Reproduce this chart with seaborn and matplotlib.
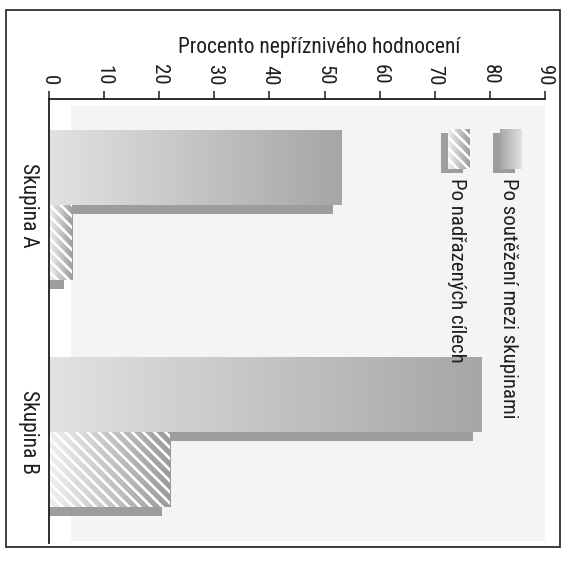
import numpy as np
import pandas as pd
import matplotlib
matplotlib.use("Agg")
import matplotlib.pyplot as plt
from matplotlib import font_manager
from matplotlib.patches import Rectangle
from matplotlib.colors import LinearSegmentedColormap
import seaborn as sns

# ---- data -------------------------------------------------------------
groups = ["Skupina A", "Skupina B"]
series = ["Po soutěžení mezi skupinami", "Po nadřazených cílech"]
competition = [53.0, 78.5]        # after intergroup competition
superordinate = [4.2, 22.0]       # after superordinate goals
ticks = [0, 10, 20, 30, 40, 50, 60, 70, 80, 90]
axis_title = "Procento nepříznivého hodnocení"

# ---- style --------------------------------------------------------------
sns.set_theme(style="white")


def pick_font():
    fonts = font_manager.fontManager.ttflist
    names = {f.name for f in fonts}
    for cand in ["Liberation Sans Narrow", "Roboto Condensed", "Open Sans Condensed"]:
        if cand in names:
            return cand, "normal"
    if any(f.name == "DejaVu Sans" and f.stretch in ("condensed", "semi-condensed", 87.5)
           for f in fonts):
        return "DejaVu Sans", "condensed"
    return "DejaVu Sans", "normal"


FONT, STRETCH = pick_font()
plt.rcParams["font.family"] = [FONT, "DejaVu Sans"]
plt.rcParams["font.stretch"] = STRETCH
HATCH_LW = 1.9
plt.rcParams["hatch.linewidth"] = HATCH_LW
plt.rcParams["hatch.color"] = "white"
HATCH = "\\\\\\"

INK = "#1e1e1e"
SHADOW = "#9d9d9d"
BG = "#f3f4f6"
solid_cmap = LinearSegmentedColormap.from_list("solid", ["#e2e2e2", "#a6a6a6"])
hatch_cmap = LinearSegmentedColormap.from_list("hatch", ["#f0f0f0", "#9a9a9a"])

df = pd.DataFrame({
    "skupina": groups + groups,
    "hodnoceni": [series[0]] * len(groups) + [series[1]] * len(groups),
    "procento": competition + superordinate,
})

fig = plt.figure(figsize=(5.68, 5.68), dpi=100)
ax = fig.add_axes([49 / 568, 1 - 543 / 568, 496 / 568, 444 / 568])

sns.barplot(data=df, x="procento", y="skupina", hue="hodnoceni",
            order=groups, hue_order=series, orient="h", width=0.66,
            dodge=True, errorbar=None, saturation=1, legend=False, ax=ax)

bars = list(ax.patches)
SHIFT_X = 1.5      # depth offset of the bar shadows (value units)
SHIFT_Y = 0.038    # depth offset of the bar shadows (category units)

for p in bars:
    w = p.get_width()
    y0 = p.get_y()
    h = p.get_height()
    yc = y0 + h / 2
    is_first = (yc - round(yc)) < 0
    # shadow behind each bar
    ax.barh(yc + SHIFT_Y, max(w - SHIFT_X, 0), height=h, left=0,
            color=SHADOW, linewidth=0, zorder=1.2)
    # gradient face
    grad = np.linspace(0, 1, 256).reshape(1, -1)
    im = ax.imshow(grad, extent=(0, w, y0 + h, y0), aspect="auto",
                   cmap=solid_cmap if is_first else hatch_cmap,
                   interpolation="bicubic", zorder=1.4)
    im.set_clip_path(p)
    p.set_facecolor("none")
    p.set_linewidth(0)
    p.set_zorder(1.6)
    if not is_first:
        p.set_edgecolor("white")
        p.set_hatch(HATCH)
        if hasattr(p, "set_hatch_linewidth"):
            p.set_hatch_linewidth(HATCH_LW)

# light panel behind the bars
ax.axvspan(4.0, 90, ymin=0.005, ymax=0.985, color=BG, linewidth=0, zorder=0)

# ---- axes ---------------------------------------------------------------
ax.set_xlim(0, 90)
ax.set_ylim(1.489, -0.467)
ax.xaxis.tick_top()
ax.set_xticks(ticks)
ax.set_xticklabels([str(t) for t in ticks], rotation=-90, ha="center", va="bottom")
ax.tick_params(axis="x", top=True, bottom=False, length=6, width=1.1,
               color=INK, pad=4, labelsize=15, labelcolor=INK)
ax.tick_params(axis="y", left=False, length=0, pad=7, labelsize=15.5, labelcolor=INK)
for lbl in ax.get_yticklabels():
    lbl.set_rotation(-90)
    lbl.set_va("center")
    lbl.set_ha("right")

ax.set_ylabel("")
ax.set_xlabel(axis_title, fontsize=15.5, color=INK)
ax.xaxis.set_label_position("top")
ax.xaxis.set_label_coords(0.545, 1.1036)
ax.xaxis.label.set_va("baseline")

for side in ("right", "bottom"):
    ax.spines[side].set_visible(False)
for side in ("top", "left"):
    ax.spines[side].set_visible(True)
    ax.spines[side].set_color(INK)
    ax.spines[side].set_linewidth(1.3)
ax.set_facecolor("white")


# ---- legend (rotated entries) -------------------------------------------
def ax_xy(px, py):
    return (px - 49) / 496, (543 - py) / 444


def legend_entry(x_left, label, cmap, hatched):
    sx0, sy0 = ax_xy(x_left - 7, 173)
    sx1, sy1 = ax_xy(x_left + 15, 133)
    ax.add_patch(Rectangle((sx0, sy0), sx1 - sx0, sy1 - sy0, transform=ax.transAxes,
                           facecolor=SHADOW, linewidth=0, zorder=3, clip_on=False))
    fx0, fy0 = ax_xy(x_left, 169)
    fx1, fy1 = ax_xy(x_left + 22, 129)
    face = Rectangle((fx0, fy0), fx1 - fx0, fy1 - fy0, transform=ax.transAxes,
                     facecolor="none", linewidth=0, zorder=3.2, clip_on=False)
    ax.add_patch(face)
    grad = np.linspace(0, 1, 64).reshape(1, -1)
    if not hatched:
        grad = grad[:, ::-1]
    im = ax.imshow(grad, extent=(fx0, fx1, fy0, fy1), transform=ax.transAxes,
                   aspect="auto", cmap=cmap, interpolation="bicubic", zorder=3.1)
    im.set_clip_path(face)
    if hatched:
        face.set_edgecolor("white")
        face.set_hatch(HATCH)
        if hasattr(face, "set_hatch_linewidth"):
            face.set_hatch_linewidth(HATCH_LW)
    tx, ty = ax_xy(x_left + 9, 178)
    ax.text(tx, ty, label, transform=ax.transAxes, rotation=-90, ha="center",
            va="top", fontsize=15, color=INK, zorder=4)


legend_entry(500, series[0], solid_cmap, False)
legend_entry(448, series[1], hatch_cmap, True)

ax.set_xlim(0, 90)
ax.set_ylim(1.489, -0.467)

# outer frame of the figure
fig.add_artist(Rectangle((6 / 568, 1 - 547 / 568), 554 / 568, 537 / 568,
                         transform=fig.transFigure, fill=False,
                         linewidth=1.2, edgecolor=INK))

fig.savefig("out.png", dpi=100)
